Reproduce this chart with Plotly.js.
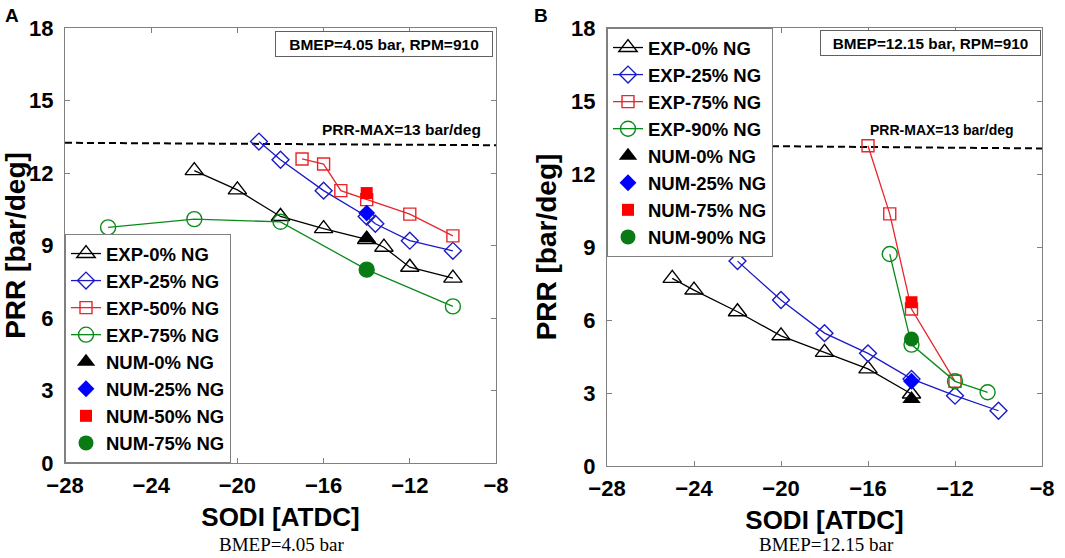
<!DOCTYPE html>
<html><head><meta charset="utf-8">
<script src="https://cdn.plot.ly/plotly-3.0.1.min.js"></script>
<style>html,body{margin:0;padding:0;background:#fff}#chart{width:1065px;height:558px}</style>
</head><body><div id="chart"></div>
<script>
// ---- axis ticks ----
const ticksX = [-28, -24, -20, -16, -12, -8];
const ticksY = [0, 3, 6, 9, 12, 15, 18];

// ---- PRR-MAX reference line ----
const prrMaxX = [-28, -8];
const prrMaxA = [13.25, 13.15];
const prrMaxB = [13.2, 13.05];

// ---- Panel A: BMEP = 4.05 bar ----
const aExp0X = [-22, -20, -18, -16, -14, -13.2, -12, -10];
const aExp0Y = [12.1, 11.3, 10.2, 9.7, 9.25, 8.93, 8.1, 7.65];
const aExp25X = [-19, -18, -16, -14, -13.6, -12, -10];
const aExp25Y = [13.3, 12.55, 11.27, 10.2, 9.9, 9.2, 8.78];
const aExp50X = [-17, -16, -15.2, -14, -12, -10];
const aExp50Y = [12.58, 12.37, 11.27, 10.9, 10.3, 9.4];
const aExp75X = [-26, -22, -18, -14, -10];
const aExp75Y = [9.75, 10.09, 9.98, 8.0, 6.48];
const aNumX = [-14];
const aNum0Y = [9.3];
const aNum25Y = [10.34];
const aNum50Y = [11.17];
const aNum75Y = [8.0];

// ---- Panel B: BMEP = 12.15 bar ----
const bExp0X = [-25, -24, -22, -20, -18, -16, -14];
const bExp0Y = [7.71, 7.23, 6.34, 5.35, 4.67, 3.99, 2.96];
const bExp25X = [-22, -20, -18, -16, -14, -12, -10];
const bExp25Y = [8.42, 6.82, 5.46, 4.63, 3.58, 2.89, 2.27];
const bExp75X = [-16, -15, -14, -12];
const bExp75Y = [13.16, 10.36, 6.45, 3.48];
const bExp90X = [-15, -14, -12, -10.5];
const bExp90Y = [8.71, 4.99, 3.48, 3.03];
const bNumX = [-14];
const bNum0Y = [2.75];
const bNum25Y = [3.48];
const bNum75Y = [6.73];
const bNum90Y = [5.22];

// ---- styles ----
const SANS = 'Liberation Sans, Arial, Helvetica, sans-serif';
const SERIF = 'Liberation Serif, Times New Roman, serif';
const C = {k: '#000000', b: '#1a1ac8', r: '#e8262b', g: '#0a8a1a'};
const CF = {k: '#000000', b: '#0000ff', r: '#ff0000', g: '#0a7a14'};
const SYM = {k: ['triangle-up', 16], b: ['diamond', 13], r: ['square', 12], g: ['circle', 15]};

function expTrace(x, y, name, c, xa, ya, lg) {
  return {x: x, y: y, name: name, type: 'scatter', mode: 'lines+markers',
    xaxis: xa, yaxis: ya, legend: lg,
    line: {color: C[c], width: 1.3},
    marker: {symbol: SYM[c][0] + '-open', size: SYM[c][1], color: C[c], line: {color: C[c], width: 1.4}}};
}
function numTrace(x, y, name, c, xa, ya, lg) {
  return {x: x, y: y, name: name, type: 'scatter', mode: 'markers',
    xaxis: xa, yaxis: ya, legend: lg,
    marker: {symbol: SYM[c][0], size: SYM[c][1], color: CF[c], line: {color: CF[c], width: 0}}};
}
function refLine(x, y, xa, ya) {
  return {x: x, y: y, type: 'scatter', mode: 'lines', showlegend: false, hoverinfo: 'skip',
    xaxis: xa, yaxis: ya, line: {color: '#000', width: 2, dash: '7px,4px'}};
}

const data = [
  refLine(prrMaxX, prrMaxA, 'x', 'y'),
  expTrace(aExp0X, aExp0Y, 'EXP-0% NG', 'k', 'x', 'y', 'legend'),
  expTrace(aExp25X, aExp25Y, 'EXP-25% NG', 'b', 'x', 'y', 'legend'),
  expTrace(aExp50X, aExp50Y, 'EXP-50% NG', 'r', 'x', 'y', 'legend'),
  expTrace(aExp75X, aExp75Y, 'EXP-75% NG', 'g', 'x', 'y', 'legend'),
  numTrace(aNumX, aNum0Y, 'NUM-0% NG', 'k', 'x', 'y', 'legend'),
  numTrace(aNumX, aNum25Y, 'NUM-25% NG', 'b', 'x', 'y', 'legend'),
  numTrace(aNumX, aNum50Y, 'NUM-50% NG', 'r', 'x', 'y', 'legend'),
  numTrace(aNumX, aNum75Y, 'NUM-75% NG', 'g', 'x', 'y', 'legend'),

  refLine(prrMaxX, prrMaxB, 'x2', 'y2'),
  expTrace(bExp0X, bExp0Y, 'EXP-0% NG', 'k', 'x2', 'y2', 'legend2'),
  expTrace(bExp25X, bExp25Y, 'EXP-25% NG', 'b', 'x2', 'y2', 'legend2'),
  expTrace(bExp75X, bExp75Y, 'EXP-75% NG', 'r', 'x2', 'y2', 'legend2'),
  expTrace(bExp90X, bExp90Y, 'EXP-90% NG', 'g', 'x2', 'y2', 'legend2'),
  numTrace(bNumX, bNum0Y, 'NUM-0% NG', 'k', 'x2', 'y2', 'legend2'),
  numTrace(bNumX, bNum25Y, 'NUM-25% NG', 'b', 'x2', 'y2', 'legend2'),
  numTrace(bNumX, bNum75Y, 'NUM-75% NG', 'r', 'x2', 'y2', 'legend2'),
  numTrace(bNumX, bNum90Y, 'NUM-90% NG', 'g', 'x2', 'y2', 'legend2')
];

const W = 1065, H = 558;
const fx = p => p / W, fy = p => 1 - p / H;

function xAxis(dom, anchor) {
  return {domain: dom, anchor: anchor, range: [-28, -8], tickmode: 'array', tickvals: ticksX,
    showline: true, mirror: 'ticks', linecolor: '#808080', linewidth: 1,
    ticks: 'inside', ticklen: 5, tickcolor: '#808080', showgrid: false, zeroline: false,
    tickfont: {family: SANS, size: 22, weight: 'bold', color: '#000'}, ticklabelstandoff: 3,
    automargin: false,
    title: {text: 'SODI [ATDC]', font: {family: SANS, size: 26, weight: 'bold', color: '#000'}, standoff: 10}};
}
function yAxis(dom, anchor) {
  return {domain: dom, anchor: anchor, range: [0, 18], tickmode: 'array', tickvals: ticksY,
    showline: true, mirror: 'ticks', linecolor: '#808080', linewidth: 1,
    ticks: 'inside', ticklen: 5, tickcolor: '#808080', showgrid: false, zeroline: false,
    tickfont: {family: SANS, size: 22, weight: 'bold', color: '#000'}, ticklabelstandoff: 6,
    automargin: false,
    title: {text: 'PRR [bar/deg]', font: {family: SANS, size: 28, weight: 'bold', color: '#000'}, standoff: 6}};
}

const legFont = {family: SANS, size: 18.5, weight: 'bold', color: '#000'};
const layout = {
  width: W, height: H, margin: {l: 0, r: 0, t: 0, b: 0},
  paper_bgcolor: '#fff', plot_bgcolor: '#fff', showlegend: true,
  xaxis: xAxis([fx(65), fx(496)], 'y'),
  yaxis: yAxis([fy(463), fy(28)], 'x'),
  xaxis2: xAxis([fx(607), fx(1042)], 'y2'),
  yaxis2: yAxis([fy(466), fy(28)], 'x2'),
  legend: {x: fx(65), xanchor: 'left', y: fy(463), yanchor: 'bottom', bgcolor: '#fff',
    bordercolor: '#808080', borderwidth: 1, font: legFont, tracegroupgap: 0},
  legend2: {x: fx(607), xanchor: 'left', y: fy(28), yanchor: 'top', bgcolor: '#fff',
    bordercolor: '#808080', borderwidth: 1, font: legFont, tracegroupgap: 0},
  annotations: [
    {text: 'A', xref: 'paper', yref: 'paper', x: fx(3), y: fy(3), xanchor: 'left', yanchor: 'top',
      showarrow: false, font: {family: SANS, size: 19, weight: 'bold', color: '#000'}},
    {text: 'B', xref: 'paper', yref: 'paper', x: fx(532), y: fy(3), xanchor: 'left', yanchor: 'top',
      showarrow: false, font: {family: SANS, size: 19, weight: 'bold', color: '#000'}},
    {text: 'BMEP=4.05 bar, RPM=910', xref: 'paper', yref: 'paper', x: fx(384), y: fy(44),
      xanchor: 'center', yanchor: 'middle', showarrow: false, width: 214, height: 22, borderpad: 1,
      bordercolor: '#606060', borderwidth: 1, bgcolor: '#fff',
      font: {family: SANS, size: 15.5, weight: 'bold', color: '#000'}},
    {text: 'BMEP=12.15 bar, RPM=910', xref: 'paper', yref: 'paper', x: fx(930.5), y: fy(43),
      xanchor: 'center', yanchor: 'middle', showarrow: false, width: 217, height: 22, borderpad: 1,
      bordercolor: '#606060', borderwidth: 1, bgcolor: '#fff',
      font: {family: SANS, size: 15.3, weight: 'bold', color: '#000'}},
    {text: 'PRR-MAX=13 bar/deg', xref: 'x', yref: 'y', x: -8.6, y: 13.8, xanchor: 'right', yanchor: 'middle',
      showarrow: false, font: {family: SANS, size: 15.5, weight: 'bold', color: '#000'}},
    {text: 'PRR-MAX=13 bar/deg', xref: 'x2', yref: 'y2', x: -9.2, y: 13.8, xanchor: 'right', yanchor: 'middle',
      showarrow: false, font: {family: SANS, size: 14, weight: 'bold', color: '#000'}},
    {text: 'BMEP=4.05 bar', xref: 'paper', yref: 'paper', x: fx(281), y: fy(544), xanchor: 'center', yanchor: 'middle',
      showarrow: false, font: {family: SERIF, size: 19, color: '#000'}},
    {text: 'BMEP=12.15 bar', xref: 'paper', yref: 'paper', x: fx(826), y: fy(544), xanchor: 'center', yanchor: 'middle',
      showarrow: false, font: {family: SERIF, size: 19, color: '#000'}}
  ]
};

Plotly.newPlot('chart', data, layout, {staticPlot: true, displayModeBar: false});
</script></body></html>
